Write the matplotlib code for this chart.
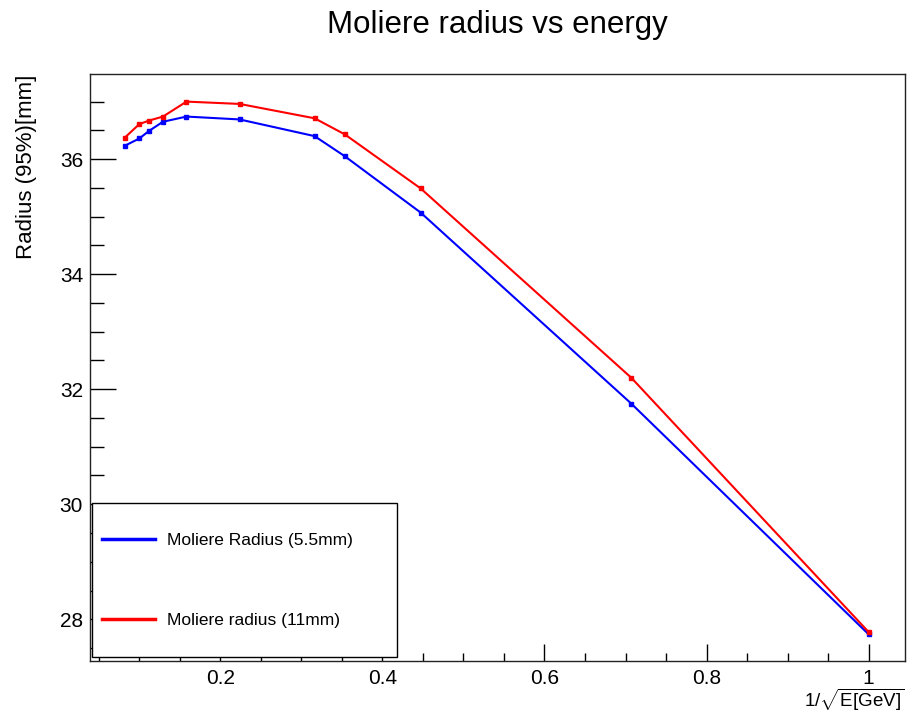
import numpy as np
import matplotlib
matplotlib.use("Agg")
import matplotlib.pyplot as plt
from matplotlib.patches import Rectangle
from matplotlib.ticker import MultipleLocator

plt.rcParams["font.family"] = ["Liberation Sans", "DejaVu Sans"]
plt.rcParams["mathtext.fontset"] = "custom"
plt.rcParams["mathtext.rm"] = "Liberation Sans"

# beam energies in GeV, the x axis is 1/sqrt(E)
energy = [150, 100, 80, 60, 40, 20, 10, 8, 5, 2, 1]
# 95% containment radius [mm]
radius_55 = [36.23, 36.36, 36.49, 36.65, 36.74, 36.69, 36.40, 36.05, 35.07, 31.75, 27.74]
radius_11 = [36.37, 36.61, 36.67, 36.74, 37.00, 36.96, 36.71, 36.43, 35.49, 32.20, 27.78]
labels = ["Moliere Radius (5.5mm)", "Moliere radius (11mm)"]

x = 1.0 / np.sqrt(np.array(energy, dtype=float))

fig = plt.figure(figsize=(9.07, 7.17), dpi=100)
ax = fig.add_axes([90 / 907, 1 - 660.7 / 717, 815 / 907, 586.7 / 717])

ax.plot(x, radius_55, color="#0000ff", lw=1.5, marker="s", ms=2.5, label=labels[0])
ax.plot(x, radius_11, color="#ff0000", lw=1.5, marker="s", ms=2.5, label=labels[1])

ax.set_xlim(0.039, 1.045)
ax.set_ylim(27.28, 37.48)

# ROOT style ticks: inward, only bottom/left
ax.set_xticks([0.2, 0.4, 0.6, 0.8, 1.0])
ax.set_xticklabels(["0.2", "0.4", "0.6", "0.8", "1"])
ax.xaxis.set_minor_locator(MultipleLocator(0.05))
ax.yaxis.set_major_locator(MultipleLocator(2))
ax.yaxis.set_minor_locator(MultipleLocator(0.5))
ax.tick_params(axis="x", which="major", direction="in", length=12, width=1, pad=6, labelsize=15)
ax.tick_params(axis="x", which="minor", direction="in", length=6, width=1)
ax.tick_params(axis="y", which="major", direction="in", length=18.5, width=1, pad=5, labelsize=15)
ax.tick_params(axis="y", which="minor", direction="in", length=10, width=1)
for s in ax.spines.values():
    s.set_linewidth(1)
    s.set_color("#222222")

# legend box (drawn as a frame in axes coords, entries inside)
box = Rectangle((0.0025, 0.0063), 0.374, 0.2625, transform=ax.transAxes,
                facecolor="white", edgecolor="black", lw=1, zorder=3, clip_on=False)
ax.add_patch(box)
leg = ax.legend(loc="center left", bbox_to_anchor=(0.0147, 0.1367),
                borderaxespad=0, borderpad=0, fontsize=12.5, handlelength=3.05,
                handletextpad=0.7, labelspacing=3.75, frameon=False)
leg.set_zorder(4)
for h in leg.get_lines():
    h.set_linewidth(2.5)
    h.set_marker("")

fig.text(497.5 / 907, 1 - 25 / 717, "Moliere radius vs energy", ha="center", va="center", fontsize=22.5)
fig.text(27 / 907, 1 - 75 / 717, "Radius (95%)[mm]", rotation=90, ha="center", va="top", fontsize=16)
fig.text(905 / 907, 4 / 717, r"1/$\sqrt{\mathrm{E[GeV]}}$", ha="right", va="bottom", fontsize=13.5)

plt.savefig("out.png", dpi=100)
plt.close()
